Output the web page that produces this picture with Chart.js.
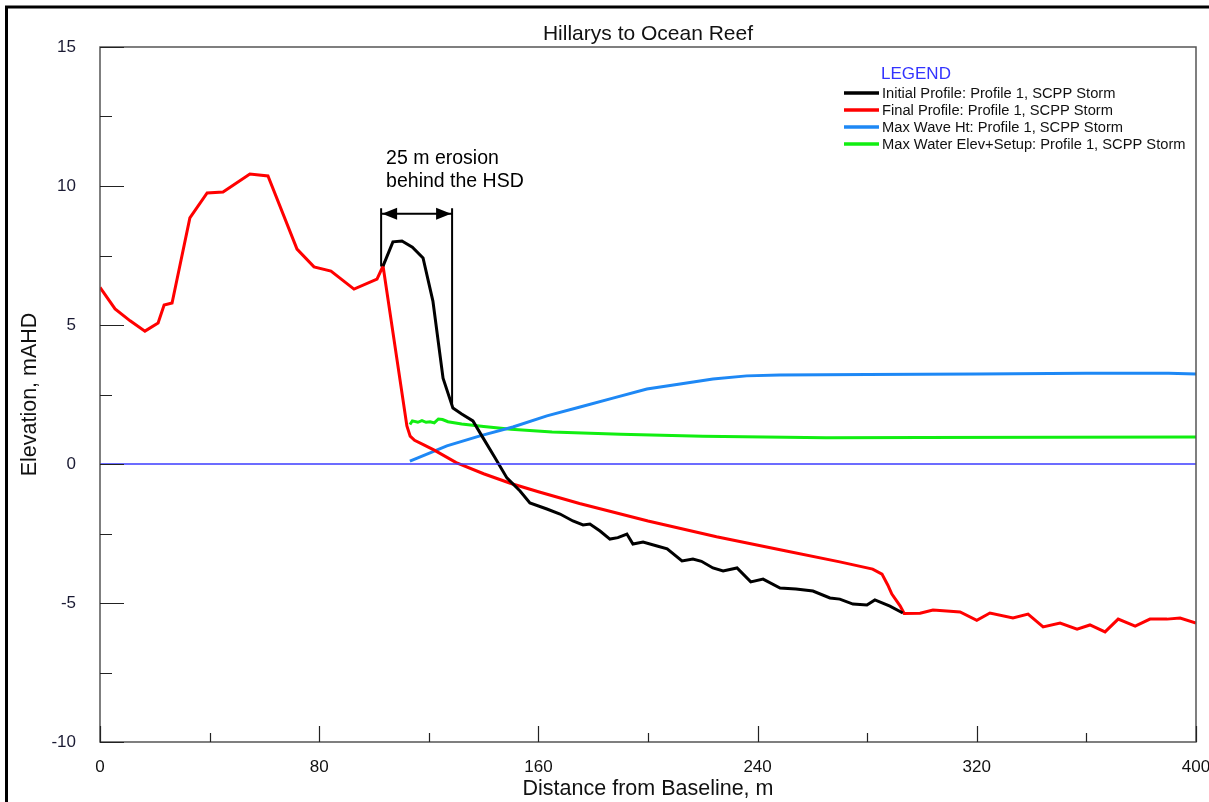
<!DOCTYPE html>
<html>
<head>
<meta charset="utf-8">
<script src="https://cdn.jsdelivr.net/npm/chart.js@4.4.1/dist/chart.umd.min.js"></script>
<style>
  html, body { margin: 0; padding: 0; background: #fff; }
  #wrap { position: relative; width: 1209px; height: 802px; }
</style>
</head>
<body>
<div id="wrap"><canvas id="chart" width="1209" height="802"></canvas></div>
<script>
// Profile values: [distance m, elevation mAHD]
const INITIAL_PROFILE = [
  [103.3, 7.12], [106.9, 7.99], [110.2, 8.02], [114, 7.8], [117.9, 7.41], [121.5, 5.86],
  [125.2, 3.09], [128.8, 2.01], [132, 1.8], [136.1, 1.55], [139.8, 0.94], [144, 0.25],
  [148.5, -0.5], [153.3, -0.97], [156.9, -1.4], [163.1, -1.62], [167.9, -1.8], [172.6, -2.05],
  [176.3, -2.19], [178.8, -2.16], [182.5, -2.41], [186.1, -2.7], [189, -2.65], [192.3, -2.52],
  [194.5, -2.88], [198.2, -2.81], [203.3, -2.95], [207, -3.05], [212.4, -3.49], [216.4, -3.42],
  [219.5, -3.5], [223.7, -3.74], [227.4, -3.85], [232.5, -3.74], [237.5, -4.24], [242, -4.14],
  [248.2, -4.46], [254, -4.5], [260.2, -4.57], [266.4, -4.82], [270, -4.86], [274.8, -5.04],
  [279.9, -5.07], [282.8, -4.89], [288.3, -5.11], [293, -5.36]
];

const FINAL_PROFILE = [
  [0, 6.35], [5.5, 5.58], [11, 5.15], [16.4, 4.78], [21.2, 5.07], [23.4, 5.72], [26.3, 5.79],
  [32.8, 8.85], [39.1, 9.75], [44.9, 9.78], [54.7, 10.43], [61.3, 10.36], [71.9, 7.73],
  [78.1, 7.09], [84.3, 6.94], [92.7, 6.29], [101.1, 6.65], [103.3, 7.12], [112, 1.37],
  [113.2, 1.0], [114.8, 0.85], [118, 0.7], [122, 0.5], [130, 0.05], [140, -0.35], [150, -0.7],
  [160, -1.0], [175, -1.42], [200, -2.05], [225, -2.62], [250, -3.12], [270, -3.52],
  [282, -3.78], [285.4, -3.96], [287.5, -4.35], [289, -4.68], [292, -5.1], [293.5, -5.38],
  [299.3, -5.37], [304, -5.25], [309, -5.29], [313.9, -5.32], [320, -5.62], [324.8, -5.36],
  [333.2, -5.54], [338.7, -5.4], [344.2, -5.86], [350.4, -5.72], [356.6, -5.94], [361.3, -5.79],
  [366.8, -6.04], [371.6, -5.58], [377.8, -5.83], [383.2, -5.58], [389.4, -5.58], [394.2, -5.54],
  [400, -5.72]
];

const MAX_WAVE_HT = [
  [113.1, 0.1], [116, 0.22], [120, 0.38], [126.6, 0.65], [138.7, 1.01], [150.7, 1.33],
  [163.1, 1.73], [175.2, 2.05], [187.2, 2.37], [199.6, 2.7], [211.7, 2.88], [223.7, 3.06],
  [236, 3.17], [248, 3.2], [280, 3.22], [320, 3.24], [360, 3.26], [390, 3.26], [400, 3.24]
];

const MAX_WATER_ELEV = [
  [113.1, 1.42], [114, 1.55], [116, 1.5], [117.5, 1.56], [119, 1.5], [120.5, 1.52], [122, 1.48],
  [123.5, 1.62], [125, 1.6], [127, 1.52], [132, 1.44], [140, 1.35], [150, 1.25], [165, 1.15],
  [190, 1.07], [220, 1.0], [250, 0.96], [265, 0.94], [300, 0.95], [350, 0.96], [400, 0.97]
];

const ZERO_LINE = [[0, 0], [400, 0]];

const SERIES_LABELS = [
  "Initial Profile: Profile 1, SCPP Storm",
  "Final Profile: Profile 1, SCPP Storm",
  "Max Wave Ht: Profile 1, SCPP Storm",
  "Max Water Elev+Setup: Profile 1, SCPP Storm"
];
const SERIES_COLORS = ["#000000", "#ff0000", "#1e88f5", "#11ee11"];

const X_TICKS = [0, 80, 160, 240, 320, 400];
const X_MINOR = [40, 120, 200, 280, 360];
const Y_TICKS = [-10, -5, 0, 5, 10, 15];
const Y_MINOR = [-7.5, -2.5, 2.5, 7.5, 12.5];

// erosion annotation, in data units
const EROSION_X = [102.6, 128.5];
const EROSION_BOTTOM_Y = [7.1, 2.05];
const EROSION_TOP_Y = 9.2;
const EROSION_ARROW_Y = 9.0;
const EROSION_TEXT = ["25 m erosion", "behind the HSD"];
const EROSION_TEXT_Y = [10.97, 10.14];

const FONT = "Arial, 'Liberation Sans', sans-serif";

const toXY = (pts) => pts.map(([x, y]) => ({ x, y }));

function lineSet(label, pts, color, width) {
  return {
    label,
    data: toXY(pts),
    borderColor: color,
    backgroundColor: color,
    borderWidth: width,
    showLine: true,
    pointRadius: 0,
    tension: 0,
    fill: false,
  };
}

// frame, inward tick marks, outer page border
const framePlugin = {
  id: "frame",
  afterDraw(chart) {
    const { ctx, chartArea: a, scales } = chart;
    const xs = scales.x, ys = scales.y;
    ctx.save();
    ctx.strokeStyle = "#555";
    ctx.lineWidth = 1.5;
    ctx.strokeRect(a.left, a.top, a.right - a.left, a.bottom - a.top);

    ctx.strokeStyle = "#222";
    ctx.lineWidth = 1.2;
    ctx.beginPath();
    for (const v of Y_TICKS) {
      const py = Math.round(ys.getPixelForValue(v)) + 0.5;
      ctx.moveTo(a.left, py); ctx.lineTo(a.left + 24, py);
    }
    for (const v of Y_MINOR) {
      const py = Math.round(ys.getPixelForValue(v)) + 0.5;
      ctx.moveTo(a.left, py); ctx.lineTo(a.left + 12, py);
    }
    for (const v of X_TICKS) {
      const px = Math.round(xs.getPixelForValue(v)) + 0.5;
      ctx.moveTo(px, a.bottom); ctx.lineTo(px, a.bottom - 16);
    }
    for (const v of X_MINOR) {
      const px = Math.round(xs.getPixelForValue(v)) + 0.5;
      ctx.moveTo(px, a.bottom); ctx.lineTo(px, a.bottom - 9);
    }
    ctx.stroke();

    ctx.strokeStyle = "#000";
    ctx.lineWidth = 3;
    ctx.beginPath();
    ctx.moveTo(5, 7); ctx.lineTo(1209, 7);
    ctx.moveTo(6.5, 5.5); ctx.lineTo(6.5, 802);
    ctx.stroke();
    ctx.restore();
  },
};

// legend block in the upper right of the plot
const legendPlugin = {
  id: "boxLegend",
  afterDraw(chart) {
    const { ctx } = chart;
    const x0 = 844;
    ctx.save();
    ctx.textBaseline = "middle";
    ctx.font = "17px " + FONT;
    ctx.fillStyle = "#3333ff";
    ctx.fillText("LEGEND", x0 + 37, 74);
    ctx.font = "14.7px " + FONT;
    SERIES_LABELS.forEach((label, i) => {
      const y = 93 + i * 17;
      ctx.strokeStyle = SERIES_COLORS[i];
      ctx.lineWidth = 3.5;
      ctx.beginPath();
      ctx.moveTo(x0, y); ctx.lineTo(x0 + 35, y);
      ctx.stroke();
      ctx.fillStyle = "#111";
      ctx.fillText(label, x0 + 38, y + 1);
    });
    ctx.restore();
  },
};

// "25 m erosion" dimension arrow
const erosionPlugin = {
  id: "erosion",
  afterDatasetsDraw(chart) {
    const { ctx, scales } = chart;
    const xs = scales.x, ys = scales.y;
    const xl = xs.getPixelForValue(EROSION_X[0]);
    const xr = xs.getPixelForValue(EROSION_X[1]);
    const yt = ys.getPixelForValue(EROSION_TOP_Y);
    const ya = ys.getPixelForValue(EROSION_ARROW_Y);
    ctx.save();
    ctx.strokeStyle = "#000";
    ctx.fillStyle = "#000";
    ctx.lineWidth = 2;
    ctx.beginPath();
    ctx.moveTo(xl, yt); ctx.lineTo(xl, ys.getPixelForValue(EROSION_BOTTOM_Y[0]));
    ctx.moveTo(xr, yt); ctx.lineTo(xr, ys.getPixelForValue(EROSION_BOTTOM_Y[1]));
    ctx.moveTo(xl, ya); ctx.lineTo(xr, ya);
    ctx.stroke();
    const head = 15, half = 6;
    ctx.beginPath();
    ctx.moveTo(xl + 1, ya); ctx.lineTo(xl + 1 + head, ya - half); ctx.lineTo(xl + 1 + head, ya + half);
    ctx.closePath();
    ctx.moveTo(xr - 1, ya); ctx.lineTo(xr - 1 - head, ya - half); ctx.lineTo(xr - 1 - head, ya + half);
    ctx.closePath();
    ctx.fill();

    ctx.font = "19.5px " + FONT;
    ctx.textBaseline = "middle";
    EROSION_TEXT.forEach((t, i) => {
      ctx.fillText(t, xl + 5, ys.getPixelForValue(EROSION_TEXT_Y[i]));
    });
    ctx.restore();
  },
};

new Chart(document.getElementById("chart"), {
  type: "scatter",
  data: {
    datasets: [
      lineSet("zero", ZERO_LINE, "#3b3bff", 1.3),
      lineSet(SERIES_LABELS[0], INITIAL_PROFILE, SERIES_COLORS[0], 3),
      lineSet(SERIES_LABELS[1], FINAL_PROFILE, SERIES_COLORS[1], 3),
      lineSet(SERIES_LABELS[2], MAX_WAVE_HT, SERIES_COLORS[2], 3),
      lineSet(SERIES_LABELS[3], MAX_WATER_ELEV, SERIES_COLORS[3], 3),
    ],
  },
  options: {
    responsive: false,
    animation: false,
    layout: { padding: { left: 0, right: 13, top: 0, bottom: 0 } },
    plugins: {
      legend: { display: false },
      tooltip: { enabled: false },
      title: {
        display: true,
        fullSize: false,
        text: "Hillarys to Ocean Reef",
        color: "#111",
        font: { family: FONT, size: 21, weight: "normal" },
        padding: { top: 21.8, bottom: 0 },
      },
    },
    scales: {
      x: {
        type: "linear",
        min: 0,
        max: 400,
        afterBuildTicks: (s) => { s.ticks = X_TICKS.map((v) => ({ value: v })); },
        afterFit: (s) => { s.height = 60; s.paddingLeft = 0; s.paddingRight = 0; },
        grid: { display: false, drawTicks: false },
        border: { display: false },
        ticks: { color: "#111", padding: 15, maxRotation: 0, font: { family: FONT, size: 17 } },
        title: {
          display: true,
          text: "Distance from Baseline, m",
          color: "#111",
          font: { family: FONT, size: 21.5 },
          padding: { top: 0, bottom: 0 },
        },
      },
      y: {
        type: "linear",
        min: -10,
        max: 15,
        afterBuildTicks: (s) => { s.ticks = Y_TICKS.map((v) => ({ value: v })); },
        afterFit: (s) => { s.width = 100; s.paddingTop = 0; s.paddingBottom = 0; },
        grid: { display: false, drawTicks: false },
        border: { display: false },
        ticks: { color: "#1a1a33", padding: 24, font: { family: FONT, size: 17 } },
        title: {
          display: true,
          text: "Elevation, mAHD",
          color: "#111",
          font: { family: FONT, size: 21.5 },
          padding: { top: 17, bottom: 0 },
        },
      },
    },
  },
  plugins: [framePlugin, legendPlugin, erosionPlugin],
});
</script>
</body>
</html>
